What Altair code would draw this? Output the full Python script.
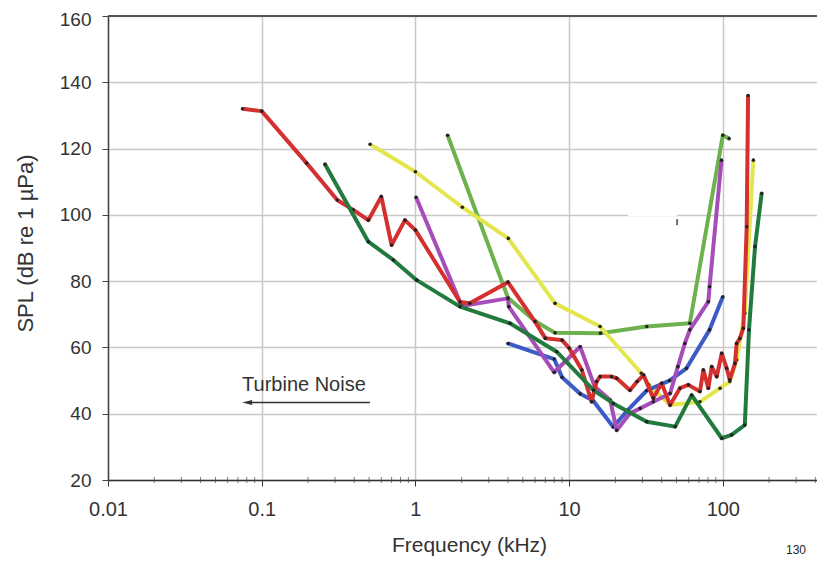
import altair as alt
import pandas as pd

# ---- values: frequency (kHz) / SPL (dB re 1 µPa) ----
lgreen_freq = [1.62, 4.0, 6.0, 8.1, 16, 32, 61, 100, 110]
lgreen_spl = [124, 75, 68, 64.4, 64.3, 66.3, 67.3, 124, 123]

yellow_freq = [0.507, 1.0, 2.02, 4.02, 8.1, 15.9, 29.5, 33, 45.4, 71, 96, 111, 123, 139, 158]
yellow_spl = [121.3, 113, 102.3, 92.9, 73.3, 66.3, 52.2, 48.7, 42.6, 43.6, 47.7, 49.7, 56.2, 70.3, 116.5]

blue_freq = [4.0, 8.0, 9.0, 11.8, 14.3, 19.4, 24, 32, 45, 58, 82, 100]
blue_spl = [61.2, 56.5, 51, 46, 44, 36, 41, 47, 50, 53.7, 65.3, 75.3]

purple_freq = [1.01, 2.0, 4.0, 4.05, 8.0, 11.8, 14.7, 18.5, 20.4, 24.9, 29, 35.3, 45.4, 51, 56.6, 61, 80.5, 82, 98]
purple_spl = [105.3, 72.5, 74.8, 72.3, 52.5, 60.2, 48.1, 44.1, 35, 40.1, 41.6, 43.6, 46.1, 54.2, 61.2, 65.3, 73.8, 78.3, 116.5]

red_freq = [0.075, 0.1, 0.196, 0.31, 0.394, 0.494, 0.60, 0.70, 0.855, 1.0, 1.95, 2.26, 4.0, 6.0, 7.0,
            9.0, 10.0, 12.1, 14.0, 15.1, 15.9, 18.9, 20.4, 24.9, 27.7, 30.5, 35.3, 40, 45.4, 52.6,
            59.7, 71, 74.7, 80.5, 84.7, 91.3, 98.4, 106, 111, 120, 123, 129, 136, 143, 146]
red_spl = [132, 131.3, 115.6, 104.5, 101.5, 98.4, 105.5, 90.9, 98.4, 95.4, 73.7, 73.3, 79.7, 67.8, 62.8,
           62.2, 59.8, 53.2, 43.6, 49.7, 51.2, 51.2, 50.7, 47.1, 49.7, 51.7, 44.7, 49.2, 42.6, 47.7,
           48.7, 46.7, 53.2, 47.7, 54.2, 51.2, 58.2, 53.7, 50.2, 55.2, 61.2, 62.7, 65.8, 96.4, 136]

dgreen_freq = [0.258, 0.494, 0.718, 1.02, 1.95, 4.12, 8.3, 14.4, 19.4, 32, 49, 62.7, 98.4, 114, 139, 148, 162, 179]
dgreen_spl = [115.3, 91.9, 86.4, 80.3, 72.3, 67.3, 58.7, 47.1, 43.1, 37.6, 36.1, 45.6, 32.6, 33.6, 36.6, 65.3, 90.4, 106.5]

series = [
    ("light green", lgreen_freq, lgreen_spl, "#6db24f"),
    ("yellow", yellow_freq, yellow_spl, "#e3e64e"),
    ("blue", blue_freq, blue_spl, "#3d5bc7"),
    ("purple", purple_freq, purple_spl, "#a64db9"),
    ("red", red_freq, red_spl, "#d43030"),
    ("dark green", dgreen_freq, dgreen_spl, "#237a3e"),
]

x_ticks = [0.01, 0.1, 1, 10, 100]
y_ticks = [20, 40, 60, 80, 100, 120, 140, 160]
minor_mult = [2, 3, 4, 5, 6, 7, 8, 9]
minor_decades = [0.01, 0.1, 1, 10, 100]
x_max = 410

FONT = "Liberation Sans"
TXT = "#333333"

xscale = alt.Scale(type="log", domain=[0.01, x_max], nice=False)
yscale = alt.Scale(domain=[20, 160], nice=False, zero=False)

x_axis = alt.Axis(values=x_ticks, format="~g", title="Frequency (kHz)", grid=True,
                  gridColor="#c8c8c8", gridWidth=1.5, domainColor="#333333", domainWidth=1.5,
                  tickColor="#333333", tickSize=6, labelFont=FONT, labelFontSize=20,
                  labelColor=TXT, labelPadding=13, labelFlush=False, titleFont=FONT,
                  titleFontSize=21, titleFontWeight="normal", titleColor=TXT,
                  titleX=361, titleY=65, titleBaseline="middle", titleAlign="center")
y_axis = alt.Axis(values=y_ticks, title="SPL (dB re 1 µPa)", grid=True,
                  gridColor="#c8c8c8", gridWidth=1.5, domainColor="#444444", domainWidth=1.5,
                  tickColor="#444444", tickSize=6, labelFont=FONT, labelFontSize=19,
                  labelColor=TXT, labelPadding=11, labelFlush=False,
                  labelOffset={"condition": {"test": "datum.value === 160", "value": 3}, "value": 0},
                  titleFont=FONT, titleFontSize=22,
                  titleFontWeight="normal", titleColor=TXT, titleAngle=270,
                  titleX=-83, titleY=227, titleBaseline="middle", titleAlign="center")


def X(field):
    return alt.X(field, scale=xscale, axis=x_axis)


def Y(field):
    return alt.Y(field, scale=yscale, axis=y_axis)


layers = []

# top border at 160
border_df = pd.DataFrame({"x": [0.01], "x2": [x_max], "y": [160]})
layers.append(alt.Chart(border_df).mark_rule(color="#555555", strokeWidth=2).encode(
    x=X("x:Q"), x2="x2:Q", y=Y("y:Q")))

# break in the 100 gridline
gap_df = pd.DataFrame({"x": [24.2], "x2": [50.4], "y": [100]})
layers.append(alt.Chart(gap_df).mark_rule(color="white", strokeWidth=3).encode(
    x=X("x:Q"), x2="x2:Q", y=Y("y:Q")))

# minor ticks on the frequency axis
minor_vals = [d * m for d in minor_decades for m in minor_mult if d * m <= x_max]
minor_df = pd.DataFrame({"x": minor_vals, "y": [20] * len(minor_vals)})
layers.append(alt.Chart(minor_df).mark_tick(color="#444444", thickness=1, size=6, orient="vertical").encode(
    x=X("x:Q"), y=Y("y:Q")))

# curves
for name, fr, sp, col in series:
    d = pd.DataFrame({"freq": fr, "spl": sp, "order": list(range(len(fr)))})
    ln = alt.Chart(d).mark_line(color=col, strokeWidth=4, strokeJoin="round").encode(
        x=X("freq:Q"), y=Y("spl:Q"), order="order:Q")
    pt = alt.Chart(d).mark_circle(color="#222222", size=13, opacity=1).encode(
        x=X("freq:Q"), y=Y("spl:Q"))
    layers += [ln, pt]

# small stray mark
stray_df = pd.DataFrame({"x": [50.4], "y": [97.8]})
layers.append(alt.Chart(stray_df).mark_tick(color="#333333", thickness=2, size=6, orient="vertical").encode(
    x=X("x:Q"), y=Y("y:Q")))

# Turbine noise annotation
arrow_df = pd.DataFrame({"x": [0.0804], "x2": [0.507], "y": [43.4]})
layers.append(alt.Chart(arrow_df).mark_rule(color="#333333", strokeWidth=1.5).encode(
    x=X("x:Q"), x2="x2:Q", y=Y("y:Q")))
layers.append(alt.Chart(arrow_df).mark_point(shape="M-1,0L1,-0.5L1,0.5Z", size=100, filled=True,
                                             color="#333333", opacity=1).encode(
    x=X("x:Q"), y=Y("y:Q")))
label_df = pd.DataFrame({"x": [0.0745], "y": [48.7], "t": ["Turbine Noise"]})
layers.append(alt.Chart(label_df).mark_text(align="left", baseline="middle", font=FONT,
                                            fontSize=20, color=TXT).encode(
    x=X("x:Q"), y=Y("y:Q"), text="t:N"))

# stray "130" text at bottom right
corner_df = pd.DataFrame({"t": ["130"]})
layers.append(alt.Chart(corner_df).mark_text(align="center", baseline="middle", font=FONT,
                                             fontSize=12, color="#222222").encode(
    x=alt.value(688), y=alt.value(534), text="t:N"))

chart = alt.layer(*layers).properties(
    width=709, height=464,
    autosize=alt.AutoSizeParams(type="none"),
    padding={"left": 100, "top": 8, "right": 0, "bottom": 76},
    background="white",
).configure_view(stroke=None)

chart.save("out.html", embed_options={"renderer": "svg", "actions": False})
